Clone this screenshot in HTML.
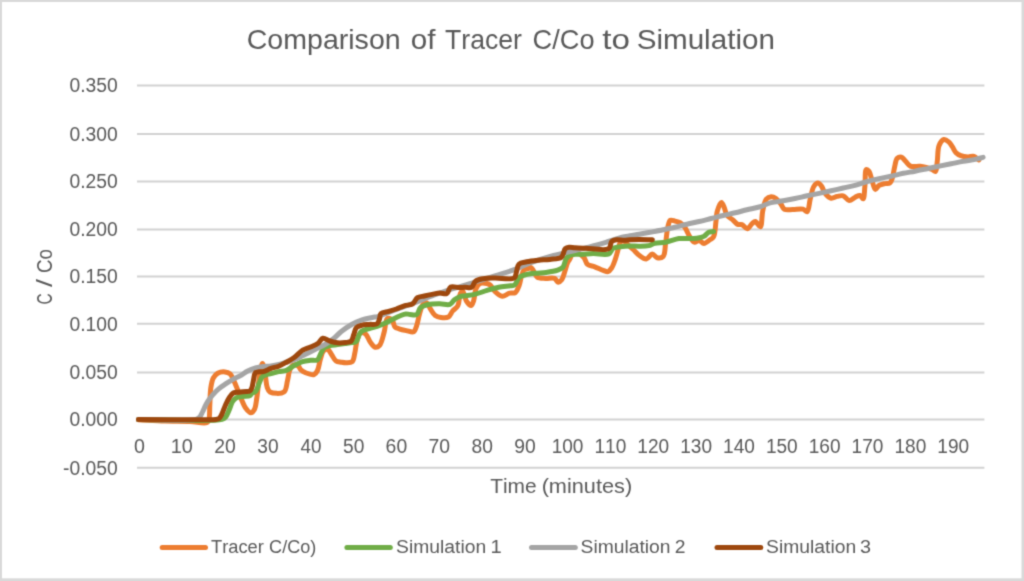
<!DOCTYPE html>
<html><head><meta charset="utf-8"><style>
html,body{margin:0;padding:0;background:#d9d9d9;overflow:hidden;}
svg{display:block;font-family:"Liberation Sans", sans-serif;font-kerning:none;}
</style></head><body>
<svg width="1024" height="581" viewBox="0 0 1024 581">
<defs><filter id="sb" filterUnits="userSpaceOnUse" x="0" y="0" width="1024" height="581" color-interpolation-filters="sRGB"><feConvolveMatrix order="3" kernelMatrix="0.0277 0.1110 0.0277 0.1110 0.4452 0.1110 0.0277 0.1110 0.0277" edgeMode="duplicate" preserveAlpha="true"/></filter></defs>
<g filter="url(#sb)">
<rect x="0" y="0" width="1024" height="581" fill="#d9d9d9"/>
<rect x="2" y="2" width="1019.5" height="576.3" fill="#ffffff"/>
<line x1="137" y1="467.70" x2="984.4" y2="467.70" stroke="#d2d2d2" stroke-width="2"/>
<line x1="137" y1="419.50" x2="984.4" y2="419.50" stroke="#d2d2d2" stroke-width="2"/>
<line x1="137" y1="372.40" x2="984.4" y2="372.40" stroke="#d2d2d2" stroke-width="2"/>
<line x1="137" y1="323.80" x2="984.4" y2="323.80" stroke="#d2d2d2" stroke-width="2"/>
<line x1="137" y1="276.60" x2="984.4" y2="276.60" stroke="#d2d2d2" stroke-width="2"/>
<line x1="137" y1="229.50" x2="984.4" y2="229.50" stroke="#d2d2d2" stroke-width="2"/>
<line x1="137" y1="181.40" x2="984.4" y2="181.40" stroke="#d2d2d2" stroke-width="2"/>
<line x1="137" y1="134.00" x2="984.4" y2="134.00" stroke="#d2d2d2" stroke-width="2"/>
<line x1="137" y1="85.60" x2="984.4" y2="85.60" stroke="#d2d2d2" stroke-width="2"/>
<text x="117.7" y="474.50" text-anchor="end" font-size="19.3" fill="#595959">-0.050</text>
<text x="117.7" y="426.30" text-anchor="end" font-size="19.3" fill="#595959">0.000</text>
<text x="117.7" y="379.20" text-anchor="end" font-size="19.3" fill="#595959">0.050</text>
<text x="117.7" y="330.60" text-anchor="end" font-size="19.3" fill="#595959">0.100</text>
<text x="117.7" y="283.40" text-anchor="end" font-size="19.3" fill="#595959">0.150</text>
<text x="117.7" y="236.30" text-anchor="end" font-size="19.3" fill="#595959">0.200</text>
<text x="117.7" y="188.20" text-anchor="end" font-size="19.3" fill="#595959">0.250</text>
<text x="117.7" y="140.80" text-anchor="end" font-size="19.3" fill="#595959">0.300</text>
<text x="117.7" y="92.40" text-anchor="end" font-size="19.3" fill="#595959">0.350</text>
<text x="133.93" y="453.20" font-size="19.3" fill="#595959" textLength="10.94" lengthAdjust="spacingAndGlyphs">0</text>
<text x="170.84" y="453.20" font-size="19.3" fill="#595959" textLength="22.09" lengthAdjust="spacingAndGlyphs">10</text>
<text x="214.23" y="453.20" font-size="19.3" fill="#595959" textLength="21.53" lengthAdjust="spacingAndGlyphs">20</text>
<text x="257.32" y="453.20" font-size="19.3" fill="#595959" textLength="21.28" lengthAdjust="spacingAndGlyphs">30</text>
<text x="300.47" y="453.20" font-size="19.3" fill="#595959" textLength="20.97" lengthAdjust="spacingAndGlyphs">40</text>
<text x="342.98" y="453.20" font-size="19.3" fill="#595959" textLength="21.32" lengthAdjust="spacingAndGlyphs">50</text>
<text x="385.62" y="453.20" font-size="19.3" fill="#595959" textLength="21.54" lengthAdjust="spacingAndGlyphs">60</text>
<text x="428.46" y="453.20" font-size="19.3" fill="#595959" textLength="21.55" lengthAdjust="spacingAndGlyphs">70</text>
<text x="471.46" y="453.20" font-size="19.3" fill="#595959" textLength="21.39" lengthAdjust="spacingAndGlyphs">80</text>
<text x="514.25" y="453.20" font-size="19.3" fill="#595959" textLength="21.46" lengthAdjust="spacingAndGlyphs">90</text>
<text x="551.65" y="453.20" font-size="19.3" fill="#595959" textLength="31.80" lengthAdjust="spacingAndGlyphs">100</text>
<text x="594.50" y="453.20" font-size="19.3" fill="#595959" textLength="31.80" lengthAdjust="spacingAndGlyphs">110</text>
<text x="637.35" y="453.20" font-size="19.3" fill="#595959" textLength="31.80" lengthAdjust="spacingAndGlyphs">120</text>
<text x="680.20" y="453.20" font-size="19.3" fill="#595959" textLength="31.80" lengthAdjust="spacingAndGlyphs">130</text>
<text x="723.05" y="453.20" font-size="19.3" fill="#595959" textLength="31.80" lengthAdjust="spacingAndGlyphs">140</text>
<text x="765.90" y="453.20" font-size="19.3" fill="#595959" textLength="31.80" lengthAdjust="spacingAndGlyphs">150</text>
<text x="808.75" y="453.20" font-size="19.3" fill="#595959" textLength="31.80" lengthAdjust="spacingAndGlyphs">160</text>
<text x="851.60" y="453.20" font-size="19.3" fill="#595959" textLength="31.80" lengthAdjust="spacingAndGlyphs">170</text>
<text x="894.45" y="453.20" font-size="19.3" fill="#595959" textLength="31.80" lengthAdjust="spacingAndGlyphs">180</text>
<text x="937.30" y="453.20" font-size="19.3" fill="#595959" textLength="31.80" lengthAdjust="spacingAndGlyphs">190</text>
<text x="246.75" y="49.30" font-size="27.6" fill="#595959" textLength="153.90" lengthAdjust="spacingAndGlyphs">Comparison</text>
<text x="410.76" y="49.30" font-size="27.6" fill="#595959" textLength="24.70" lengthAdjust="spacingAndGlyphs">of</text>
<text x="445.00" y="49.30" font-size="27.6" fill="#595959" textLength="76.94" lengthAdjust="spacingAndGlyphs">Tracer</text>
<text x="532.62" y="49.30" font-size="27.6" fill="#595959" textLength="61.92" lengthAdjust="spacingAndGlyphs">C/Co</text>
<text x="602.30" y="49.30" font-size="27.6" fill="#595959" textLength="27.70" lengthAdjust="spacingAndGlyphs">to</text>
<text x="636.66" y="49.30" font-size="27.6" fill="#595959" textLength="138.27" lengthAdjust="spacingAndGlyphs">Simulation</text>
<text x="490.13" y="492.80" font-size="20.9" fill="#595959" textLength="46.50" lengthAdjust="spacingAndGlyphs">Time</text>
<text x="541.65" y="492.80" font-size="20.9" fill="#595959" textLength="90.49" lengthAdjust="spacingAndGlyphs">(minutes)</text>
<g transform="translate(51.7,310) rotate(-90)"><text x="5.51" y="0.00" font-size="21.5" fill="#595959" textLength="11.18" lengthAdjust="spacingAndGlyphs">C</text><text x="22.90" y="0.00" font-size="21.5" fill="#595959" textLength="8.00" lengthAdjust="spacingAndGlyphs">/</text><text x="36.95" y="0.00" font-size="21.5" fill="#595959" textLength="23.94" lengthAdjust="spacingAndGlyphs">Co</text></g>
<path d="M138.50,419.80C147.33,420.20 156.29,420.72 165.00,421.00C173.45,421.28 182.53,421.13 190.00,421.50C196.07,421.80 203.63,424.02 206.50,422.80C207.84,422.23 208.23,421.43 208.80,420.00C209.96,417.08 209.48,410.16 209.80,405.00C210.14,399.51 210.05,392.89 210.80,388.00C211.38,384.20 211.90,380.60 213.30,378.00C214.41,375.94 215.85,374.22 217.70,373.20C219.67,372.12 222.72,371.69 224.90,371.90C226.80,372.08 228.69,372.68 230.10,373.90C231.72,375.30 232.56,377.97 233.70,380.30C234.98,382.92 236.09,385.93 237.30,388.90C238.59,392.08 239.78,395.56 241.20,398.80C242.61,402.03 243.96,405.85 245.80,408.30C247.27,410.26 249.27,412.81 250.80,412.80C252.10,412.79 253.47,411.14 254.40,409.50C255.85,406.96 256.03,402.61 256.80,398.00C257.94,391.17 258.72,378.67 260.00,372.40C260.76,368.66 261.68,363.59 262.50,363.60C263.41,363.62 264.43,370.70 265.20,374.50C266.02,378.58 266.07,384.16 267.20,387.30C267.94,389.34 268.31,391.04 270.00,392.00C272.70,393.53 281.00,394.13 283.90,392.00C286.59,390.03 286.49,384.37 287.50,380.60C288.47,376.97 288.61,372.59 289.90,369.80C290.86,367.72 292.08,365.44 293.60,364.90C294.97,364.42 297.19,365.23 298.40,366.10C299.55,366.92 299.71,368.73 300.80,369.80C302.03,371.01 303.70,372.03 305.60,372.80C307.94,373.75 311.94,375.30 314.00,374.60C315.63,374.05 316.55,372.34 317.50,370.50C318.88,367.83 319.23,362.90 320.30,359.50C321.26,356.46 321.87,352.59 323.50,351.00C324.65,349.88 326.54,349.11 327.80,349.50C329.27,349.95 330.22,352.71 331.50,354.50C332.94,356.51 334.19,359.76 336.00,361.00C337.46,362.00 339.30,361.90 341.00,362.20C342.73,362.50 344.48,362.88 346.30,362.80C348.24,362.72 350.89,362.88 352.30,361.60C353.98,360.06 354.05,356.34 354.80,353.20C355.73,349.30 355.97,343.59 357.20,339.90C358.15,337.06 359.13,333.47 360.80,332.70C362.11,332.10 364.19,332.83 365.60,333.90C367.57,335.39 368.64,339.97 370.40,342.30C371.88,344.26 373.52,346.84 375.20,347.20C376.58,347.49 378.26,346.79 379.50,345.50C381.67,343.23 382.94,336.50 384.20,332.00C385.42,327.66 385.35,320.61 387.00,319.00C387.75,318.27 388.83,318.31 389.70,318.50C390.67,318.72 391.71,319.48 392.50,320.50C393.62,321.95 393.68,325.62 395.00,327.00C396.06,328.11 397.52,328.26 399.10,328.80C401.14,329.50 403.88,330.10 406.30,330.60C408.71,331.10 411.88,332.68 413.60,331.80C415.24,330.96 415.71,328.21 416.60,325.80C417.81,322.52 418.43,317.47 419.60,313.70C420.66,310.28 421.52,305.72 423.20,304.10C424.22,303.11 425.73,302.51 426.80,302.90C428.25,303.44 429.06,306.88 430.40,308.90C431.84,311.08 433.26,314.07 435.20,315.50C436.88,316.74 438.92,317.22 441.00,317.50C443.29,317.80 446.46,318.09 448.40,317.00C450.32,315.91 451.03,312.89 452.60,311.00C454.19,309.08 456.63,307.99 457.90,305.60C459.51,302.56 459.04,296.01 460.30,293.60C460.97,292.32 461.94,290.94 462.70,291.10C464.02,291.37 464.67,298.26 466.30,300.80C467.62,302.86 469.85,305.79 471.10,305.60C472.21,305.43 472.89,302.83 473.60,300.80C474.68,297.74 474.61,291.78 476.00,288.70C477.02,286.46 478.22,284.37 480.00,283.50C481.81,282.61 484.93,283.10 486.80,283.50C488.23,283.80 489.24,284.15 490.40,285.10C492.08,286.47 493.23,289.95 495.20,291.80C497.19,293.66 499.86,296.00 502.30,296.20C504.67,296.40 507.28,293.79 509.60,293.20C511.58,292.70 513.78,293.62 515.30,292.60C517.09,291.40 518.09,288.19 519.10,285.60C520.22,282.72 520.59,278.80 521.50,276.00C522.23,273.74 522.67,271.19 523.90,270.00C524.85,269.09 526.30,269.12 527.50,268.70C528.70,268.28 530.10,267.17 531.10,267.50C532.17,267.86 532.72,269.72 533.60,271.10C534.72,272.85 535.35,275.96 537.20,277.20C539.22,278.55 542.75,278.20 545.60,278.40C548.52,278.61 552.31,277.46 554.50,278.40C556.20,279.13 556.93,282.18 558.20,282.30C559.34,282.41 560.69,281.13 561.70,279.80C563.28,277.73 564.28,273.00 565.30,270.00C566.16,267.48 566.64,264.92 567.50,263.00C568.16,261.53 568.97,260.59 569.70,259.30C570.47,257.93 570.83,256.04 572.00,255.00C573.23,253.90 575.25,252.83 577.00,253.00C579.17,253.21 582.14,255.56 583.90,257.50C585.61,259.38 585.67,262.85 587.50,264.40C589.31,265.94 592.30,265.86 594.80,266.80C597.52,267.83 600.76,269.58 603.20,270.40C605.00,271.00 606.61,271.99 608.00,271.60C609.41,271.21 610.53,269.58 611.60,268.00C613.03,265.88 614.18,262.44 615.20,259.60C616.21,256.80 616.89,253.90 617.70,251.10C618.49,248.37 618.82,244.82 620.00,243.00C620.81,241.76 621.88,240.48 623.00,240.50C624.47,240.53 626.31,243.51 628.00,245.00C629.71,246.51 631.43,247.89 633.20,249.50C635.13,251.26 636.91,253.63 639.10,255.20C641.28,256.76 644.08,259.13 646.30,258.90C648.47,258.67 650.39,254.04 652.30,254.00C654.00,253.97 655.38,257.30 657.20,257.70C659.02,258.10 661.79,257.86 663.20,256.40C665.29,254.24 664.84,247.88 665.60,243.20C666.45,237.92 666.89,230.46 668.00,226.30C668.68,223.74 669.06,221.05 670.40,220.30C671.54,219.66 673.44,220.72 675.00,221.10C676.67,221.51 678.53,221.75 680.10,222.70C681.87,223.77 683.44,225.52 684.90,227.50C686.68,229.91 687.90,233.82 689.60,236.40C691.07,238.62 692.53,241.72 694.30,242.20C695.76,242.60 697.54,240.24 699.10,240.40C700.74,240.56 702.21,243.38 703.90,243.40C705.78,243.42 708.18,241.01 709.90,239.80C711.32,238.80 712.65,238.46 713.60,236.80C715.34,233.77 715.36,225.70 716.00,221.10C716.50,217.51 716.31,214.58 717.20,211.50C718.10,208.38 720.07,202.55 721.40,202.50C722.45,202.46 723.53,205.93 724.40,207.90C725.36,210.09 725.41,213.10 726.80,215.10C728.20,217.11 730.93,218.29 732.80,219.90C734.54,221.39 735.98,223.69 737.70,224.40C739.08,224.97 740.59,224.06 742.00,224.60C743.76,225.27 745.54,228.91 747.20,228.80C748.91,228.68 750.57,224.88 752.10,223.60C753.22,222.66 754.17,221.37 755.30,221.50C756.85,221.68 759.09,227.18 760.30,226.80C762.09,226.24 761.61,215.95 762.70,211.10C763.67,206.80 764.35,201.42 766.30,199.10C767.58,197.58 769.47,196.79 771.10,196.70C772.71,196.61 774.49,197.47 776.00,198.50C777.77,199.71 779.37,202.05 780.80,203.90C782.15,205.65 782.61,208.31 784.40,209.30C786.44,210.42 789.86,209.51 792.80,209.50C796.04,209.49 800.41,208.55 803.00,209.20C804.78,209.65 806.10,212.07 807.20,211.60C808.99,210.83 809.11,203.35 810.20,199.20C811.31,194.98 812.02,189.24 813.80,186.50C814.93,184.76 816.58,183.10 817.90,183.10C819.14,183.10 820.42,184.73 821.50,186.10C822.92,187.90 823.46,191.37 825.10,193.40C826.69,195.38 828.98,197.78 831.10,198.20C833.03,198.58 835.16,196.80 837.20,196.40C839.19,196.01 841.31,195.24 843.20,195.80C845.34,196.43 847.14,200.44 849.20,200.60C851.15,200.76 853.27,198.08 855.20,197.20C856.85,196.45 858.66,195.17 860.00,195.50C861.26,195.81 862.32,199.05 863.10,198.80C864.41,198.38 864.39,190.62 864.90,186.10C865.48,180.94 864.74,170.25 866.30,169.50C866.99,169.17 868.22,170.27 869.00,171.30C870.34,173.05 870.96,177.30 872.00,180.30C873.05,183.33 873.87,189.10 875.30,189.40C876.38,189.63 877.54,186.36 879.10,185.40C880.76,184.38 883.20,184.00 885.10,183.60C886.77,183.25 888.71,183.84 889.90,183.00C891.15,182.11 891.60,180.22 892.30,178.20C893.36,175.13 893.88,169.67 894.80,166.10C895.54,163.20 895.76,159.71 897.20,158.30C898.26,157.27 900.09,156.76 901.40,157.10C902.93,157.50 904.15,159.85 905.60,161.30C907.15,162.85 908.30,165.20 910.40,166.10C912.91,167.17 917.27,165.99 920.10,166.30C922.35,166.55 924.12,166.97 926.10,167.50C928.12,168.04 930.41,168.75 932.10,169.50C933.43,170.08 934.66,171.80 935.50,171.40C936.88,170.74 936.75,164.90 937.30,161.10C937.97,156.45 937.51,149.32 939.10,145.50C940.21,142.83 942.13,139.89 943.90,139.50C945.38,139.17 947.33,140.75 948.70,141.90C950.15,143.11 951.13,144.98 952.30,146.70C953.57,148.56 954.48,151.17 956.00,152.70C957.37,154.07 958.96,155.00 960.80,155.70C962.89,156.49 965.70,156.82 968.00,156.90C970.09,156.97 972.19,155.80 974.00,156.30C975.82,156.80 977.27,158.70 978.90,159.90" fill="none" stroke="#ED7D31" stroke-width="5" stroke-linejoin="round" stroke-linecap="round"/>
<path d="M138.50,419.40C166.33,419.40 212.65,422.10 222.00,419.40C224.08,418.80 224.44,418.36 225.50,417.20C227.03,415.51 228.22,412.02 229.40,409.40C230.55,406.85 231.16,403.73 232.50,401.70C233.59,400.04 234.80,398.67 236.40,397.80C238.12,396.87 240.43,396.87 242.60,396.50C244.95,396.10 248.51,396.34 250.00,395.50C250.87,395.01 250.85,394.14 251.60,393.50C252.65,392.61 254.80,392.36 256.00,391.00C257.56,389.23 258.18,385.51 259.30,383.00C260.32,380.71 261.03,377.86 262.40,376.50C263.42,375.49 264.68,375.27 266.00,374.80C267.51,374.27 269.16,374.06 271.00,373.60C273.29,373.03 276.12,372.15 278.70,371.60C281.25,371.05 283.91,371.23 286.40,370.30C289.09,369.29 291.50,366.94 294.20,365.50C296.93,364.04 299.87,362.47 302.70,361.60C305.30,360.80 307.97,360.60 310.50,360.30C312.86,360.02 315.63,360.96 317.40,359.80C319.34,358.53 320.03,354.58 321.30,352.40C322.35,350.60 322.99,348.73 324.40,347.60C325.82,346.46 327.80,346.09 329.80,345.60C332.13,345.03 335.03,344.94 337.60,344.60C340.10,344.27 342.57,343.94 345.00,343.60C347.37,343.27 349.97,343.01 352.00,342.60C353.59,342.28 355.09,342.45 356.20,341.50C357.61,340.29 357.99,336.84 359.00,335.00C359.82,333.52 360.28,332.20 361.60,331.20C363.36,329.87 366.72,329.42 369.30,328.60C371.88,327.78 374.53,327.19 377.10,326.30C379.70,325.40 382.25,324.35 384.80,323.20C387.42,322.02 390.00,320.56 392.60,319.30C395.17,318.06 397.94,316.64 400.30,315.70C402.24,314.93 403.98,314.06 405.70,313.90C407.20,313.76 408.41,314.37 410.00,314.50C411.96,314.67 414.89,315.67 416.60,314.70C418.49,313.63 418.60,309.40 420.50,307.70C422.44,305.97 425.31,305.17 428.20,304.50C431.61,303.71 436.07,303.80 439.80,303.80C443.28,303.80 447.34,305.37 449.90,304.40C451.95,303.62 452.81,301.10 454.50,299.80C456.18,298.51 458.15,297.24 460.00,296.60C461.65,296.03 463.03,296.21 465.00,295.90C467.86,295.45 471.94,294.97 475.50,294.10C479.30,293.17 483.22,291.54 487.10,290.40C490.95,289.27 494.81,288.07 498.70,287.30C502.54,286.54 507.40,286.26 510.30,285.80C512.05,285.52 513.25,285.86 514.50,285.00C516.23,283.81 517.19,279.61 518.80,278.00C520.00,276.80 520.98,276.28 522.70,275.60C525.47,274.51 530.41,273.82 534.30,273.30C538.18,272.79 542.12,273.01 546.00,272.50C549.89,271.98 554.54,271.35 557.60,270.20C559.82,269.37 561.63,268.72 563.00,267.10C564.64,265.17 564.83,260.85 566.10,258.80C567.01,257.33 567.86,256.26 569.20,255.50C570.73,254.63 572.99,254.39 575.00,254.20C577.12,254.00 579.09,254.45 581.60,254.40C584.93,254.34 589.05,253.69 593.20,253.60C597.99,253.50 605.28,255.60 608.70,254.00C611.07,252.89 611.34,249.41 613.30,248.20C615.22,247.01 617.76,247.07 620.30,246.70C623.26,246.26 626.82,245.98 630.00,245.90C633.08,245.82 636.03,246.25 639.10,246.20C642.26,246.15 645.90,246.22 648.70,245.60C651.01,245.09 652.43,243.76 654.80,243.20C657.85,242.48 661.84,242.88 665.60,242.20C669.83,241.44 674.94,239.13 678.90,238.60C681.99,238.19 684.42,238.66 687.30,238.60C690.35,238.54 693.79,238.62 696.70,238.20C699.28,237.83 701.85,237.47 703.90,236.40C705.80,235.41 706.96,232.98 708.70,232.20C710.23,231.52 711.97,231.80 713.60,231.60" fill="none" stroke="#70AD47" stroke-width="5" stroke-linejoin="round" stroke-linecap="round"/>
<path d="M138.50,419.50C157.67,419.43 188.27,421.47 196.00,419.30C198.15,418.70 198.75,418.10 199.80,417.00C200.98,415.76 201.60,413.79 202.50,412.00C203.51,409.99 204.46,407.50 205.50,405.50C206.43,403.70 207.29,402.16 208.40,400.50C209.60,398.70 210.92,396.91 212.50,395.10C214.29,393.04 216.46,390.79 218.70,388.90C220.96,386.99 223.47,385.39 226.00,383.70C228.63,381.95 231.66,379.97 234.20,378.60C236.26,377.48 237.97,377.01 240.00,375.90C242.43,374.57 245.06,372.33 247.70,371.00C250.23,369.72 252.87,368.74 255.50,368.00C258.04,367.29 260.62,366.93 263.20,366.60C265.78,366.27 268.39,366.34 271.00,366.00C273.66,365.65 276.35,365.16 279.00,364.50C281.69,363.83 284.33,362.83 287.00,362.00C289.67,361.17 292.38,360.56 295.00,359.50C297.71,358.41 300.06,356.97 303.00,355.50C306.60,353.70 311.18,351.41 315.00,349.50C318.49,347.76 321.84,346.36 325.00,344.50C328.07,342.69 330.97,340.68 333.70,338.50C336.40,336.34 338.47,333.73 341.30,331.50C344.41,329.04 348.16,326.48 351.70,324.50C355.07,322.62 358.50,320.97 362.00,319.80C365.38,318.67 369.30,318.13 372.30,317.50C374.62,317.02 375.98,317.02 378.50,316.30C382.72,315.10 389.40,312.10 395.00,310.00C400.79,307.83 406.68,305.77 412.70,303.50C419.01,301.12 425.99,298.29 432.00,296.00C437.25,294.00 441.28,292.33 446.80,290.50C453.63,288.23 462.15,286.08 470.00,283.70C478.14,281.23 487.04,278.36 494.80,275.90C501.67,273.72 508.11,271.96 514.20,269.70C519.79,267.63 524.14,265.16 530.00,263.00C537.05,260.40 545.97,257.63 553.70,255.50C560.95,253.50 567.85,252.23 575.00,250.50C582.28,248.74 590.65,246.77 597.00,245.00C601.92,243.63 605.75,242.31 610.00,241.00C614.08,239.74 618.38,238.19 622.00,237.30C624.91,236.58 627.24,236.29 630.00,235.80C632.93,235.28 635.86,234.86 639.10,234.30C642.83,233.65 647.09,232.85 651.10,232.10C655.13,231.35 659.20,230.60 663.20,229.80C667.16,229.00 671.06,228.23 675.00,227.30C678.99,226.36 682.98,225.17 687.00,224.20C691.02,223.23 695.08,222.45 699.10,221.50C703.11,220.55 707.09,219.50 711.10,218.50C715.12,217.50 719.17,216.45 723.20,215.50C727.20,214.55 731.22,213.75 735.20,212.80C739.16,211.85 743.04,210.76 747.00,209.80C751.00,208.83 755.11,208.17 759.10,207.00C763.14,205.81 767.04,203.74 771.10,202.70C775.08,201.68 779.20,201.50 783.20,200.80C787.16,200.10 791.04,199.32 795.00,198.50C799.04,197.66 803.15,196.66 807.20,195.80C811.19,194.96 815.13,194.23 819.10,193.40C823.09,192.56 827.09,191.70 831.10,190.80C835.13,189.90 839.19,188.92 843.20,188.00C847.16,187.09 851.05,186.36 855.00,185.30C859.05,184.21 863.14,182.63 867.20,181.50C871.17,180.40 875.12,179.48 879.10,178.60C883.08,177.72 887.10,177.08 891.10,176.20C895.13,175.31 899.18,174.14 903.20,173.30C907.15,172.48 911.04,171.96 915.00,171.20C919.04,170.43 923.16,169.54 927.20,168.70C931.19,167.87 935.12,167.02 939.10,166.20C943.09,165.38 947.09,164.61 951.10,163.80C955.13,162.98 959.17,162.04 963.20,161.30C967.20,160.57 971.63,160.15 975.20,159.40C978.13,158.78 980.47,158.00 983.10,157.30" fill="none" stroke="#A5A5A5" stroke-width="5" stroke-linejoin="round" stroke-linecap="round"/>
<path d="M138.50,419.50C164.33,419.47 207.53,420.52 216.00,419.40C217.70,419.18 218.13,419.23 219.00,418.60C220.10,417.81 220.81,416.21 221.70,414.50C222.99,412.04 224.15,407.95 225.50,405.00C226.73,402.32 227.96,399.61 229.40,397.50C230.60,395.73 231.70,393.88 233.30,393.00C234.83,392.16 236.74,392.42 238.70,392.20C241.04,391.94 244.41,391.81 246.40,391.60C247.67,391.47 248.63,391.72 249.50,391.20C250.47,390.62 251.19,389.39 251.80,388.00C252.68,386.00 252.87,382.61 253.50,380.00C254.11,377.48 254.22,373.83 255.50,372.60C256.38,371.76 257.77,371.97 259.00,371.80C260.33,371.62 261.62,371.95 263.20,371.60C265.44,371.10 268.38,369.31 271.00,368.40C273.55,367.52 276.18,367.20 278.70,366.20C281.32,365.16 283.85,363.63 286.40,362.20C289.01,360.73 291.62,359.36 294.20,357.50C297.06,355.43 299.78,351.99 302.70,350.20C305.23,348.65 307.93,348.16 310.50,347.00C313.10,345.83 316.06,344.78 318.20,343.20C320.11,341.79 321.02,338.61 322.90,338.20C324.86,337.77 327.40,340.24 329.80,341.00C332.29,341.79 334.99,342.55 337.60,342.80C340.16,343.04 342.94,342.79 345.30,342.50C347.35,342.25 349.60,342.46 351.00,341.30C352.57,339.99 352.89,336.79 353.80,334.50C354.72,332.19 355.02,329.04 356.50,327.50C357.77,326.18 359.68,325.81 361.60,325.30C363.86,324.69 366.72,324.65 369.30,324.40C371.89,324.15 375.39,324.95 377.10,323.80C378.51,322.85 378.85,320.68 379.50,319.00C380.16,317.28 379.75,314.86 381.00,313.60C382.49,312.09 386.14,312.17 388.70,311.40C391.27,310.63 393.85,309.92 396.40,309.00C399.01,308.06 401.51,306.66 404.20,305.80C406.94,304.92 410.47,305.25 412.70,303.80C414.80,302.43 415.40,298.90 417.40,297.60C419.31,296.36 421.93,296.52 424.30,296.00C426.82,295.45 429.51,294.90 432.10,294.40C434.67,293.90 437.29,293.12 439.80,293.00C442.18,292.89 445.00,294.53 446.80,293.60C448.68,292.63 448.72,288.04 450.70,287.00C452.78,285.91 456.64,287.58 459.20,287.60C461.32,287.62 463.00,287.35 465.00,287.30C467.13,287.24 469.87,288.25 471.60,287.30C473.41,286.31 473.65,282.63 475.50,281.20C477.45,279.69 480.33,279.24 483.20,278.70C486.64,278.05 490.44,278.13 494.80,278.00C500.44,277.83 510.99,280.23 514.20,278.00C516.08,276.70 515.75,273.98 516.50,271.80C517.32,269.41 517.23,265.87 518.90,264.20C520.58,262.52 523.74,262.44 526.60,261.80C530.04,261.03 534.33,260.60 538.20,260.20C542.06,259.80 545.95,259.90 549.80,259.40C553.68,258.90 558.81,259.23 561.40,257.20C563.71,255.39 563.61,250.28 565.30,248.70C566.43,247.64 567.75,247.39 569.20,247.20C570.92,246.97 572.78,247.64 575.00,247.80C577.98,248.01 581.31,248.08 585.50,248.20C591.72,248.37 604.73,251.18 608.70,248.60C611.02,247.09 610.25,242.75 611.80,241.30C613.02,240.16 614.64,239.93 616.40,239.70C618.63,239.41 621.79,240.31 624.20,240.30C626.28,240.29 627.85,239.92 630.00,239.80C632.69,239.65 635.78,239.61 639.10,239.60C643.11,239.59 647.97,239.73 652.40,239.80" fill="none" stroke="#9E480E" stroke-width="5" stroke-linejoin="round" stroke-linecap="round"/>
<line x1="162.2" y1="547.5" x2="205.5" y2="547.5" stroke="#ED7D31" stroke-width="5" stroke-linecap="round"/>
<text x="210.99" y="553.20" font-size="19.2" fill="#595959" textLength="52.92" lengthAdjust="spacingAndGlyphs">Tracer</text>
<text x="269.08" y="553.20" font-size="19.2" fill="#595959" textLength="47.24" lengthAdjust="spacingAndGlyphs">C/Co)</text>
<line x1="346.9" y1="547.5" x2="390.3" y2="547.5" stroke="#70AD47" stroke-width="5" stroke-linecap="round"/>
<text x="396.12" y="553.20" font-size="19.2" fill="#595959" textLength="90.03" lengthAdjust="spacingAndGlyphs">Simulation</text>
<text x="490.46" y="553.20" font-size="19.2" fill="#595959" textLength="11.22" lengthAdjust="spacingAndGlyphs">1</text>
<line x1="531.5" y1="547.5" x2="575.3" y2="547.5" stroke="#A5A5A5" stroke-width="5" stroke-linecap="round"/>
<text x="580.52" y="553.20" font-size="19.2" fill="#595959" textLength="90.03" lengthAdjust="spacingAndGlyphs">Simulation</text>
<text x="674.83" y="553.20" font-size="19.2" fill="#595959" textLength="10.74" lengthAdjust="spacingAndGlyphs">2</text>
<line x1="717.0" y1="547.5" x2="760.8" y2="547.5" stroke="#9E480E" stroke-width="5" stroke-linecap="round"/>
<text x="766.12" y="553.20" font-size="19.2" fill="#595959" textLength="90.03" lengthAdjust="spacingAndGlyphs">Simulation</text>
<text x="860.04" y="553.20" font-size="19.2" fill="#595959" textLength="11.03" lengthAdjust="spacingAndGlyphs">3</text>
</g>
</svg></body></html>
